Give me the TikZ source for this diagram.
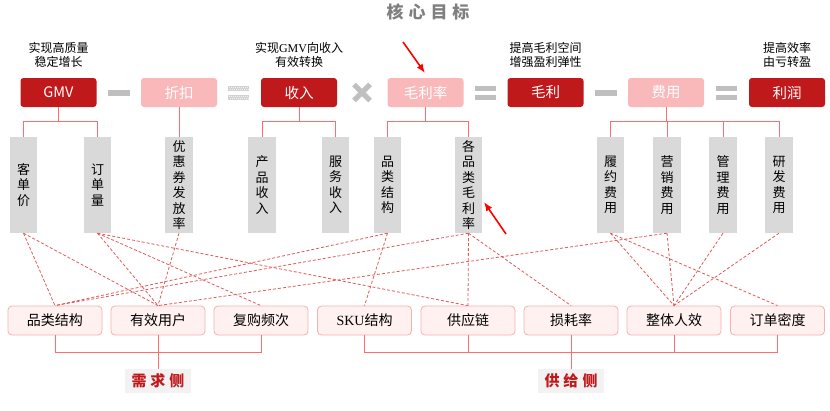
\documentclass[tikz,border=0pt]{standalone}
\usepackage{fontspec}
\setmainfont{Noto Sans CJK SC}
\newfontfamily\latinserif{Liberation Serif}
\usetikzlibrary{arrows.meta,calc}
\definecolor{darkred}{HTML}{C0191C}
\definecolor{lightpink}{HTML}{F9B8B9}
\definecolor{grayfill}{HTML}{D9D9D9}
\definecolor{linered}{HTML}{FF6E6E}
\definecolor{dashred}{HTML}{E05A5A}
\definecolor{boxfill}{HTML}{FFF1F0}
\definecolor{boxborder}{HTML}{FBAEAC}
\definecolor{opgray}{HTML}{BFBFBF}
\definecolor{titlegray}{HTML}{7F7F7F}
\definecolor{labelbg}{HTML}{F2F2F2}
\tikzset{
  topdark/.style={fill=darkred, rounded corners=3pt, minimum width=76pt, minimum height=29pt, inner sep=0pt, text=white, font=\fontsize{14.5}{16}\selectfont},
  toplight/.style={topdark, fill=lightpink},
  graybox/.style={fill=grayfill, minimum width=27.5pt, minimum height=96pt, inner sep=0pt, align=center, font=\fontsize{13}{15.5}\selectfont},
  botbox/.style={fill=boxfill, draw=boxborder, line width=0.8pt, rounded corners=4pt, minimum width=94pt, minimum height=29pt, inner sep=0pt, font=\fontsize{14}{16}\selectfont},
  sidelabel/.style={fill=labelbg, minimum width=66pt, minimum height=24pt, inner sep=0pt, text=darkred, font=\fontsize{15}{17}\selectfont\bfseries},
  goal/.style={align=center, font=\fontsize{12}{14.5}\selectfont},
  tree/.style={draw=linered, line width=1pt},
  link/.style={draw=dashred, line width=0.8pt, dash pattern=on 3pt off 2pt},
  opbar/.style={fill=opgray},
  pointer/.style={draw=red, line width=1.6pt, -{Latex[length=9pt,width=7pt]}}
}
\begin{document}
\begin{tikzpicture}[x=1pt,y=-1pt]
\useasboundingbox (0,0) rectangle (830,410);
\fill[white] (0,0) rectangle (830,410);

% title
\node[text=titlegray, font=\fontsize{17}{19}\selectfont\bfseries] (title) at (428,12) {核\hspace{5pt}心\hspace{5pt}目\hspace{5pt}标};

% goal texts
\node[goal] (g1) at (58.5,55) {实现高质量\\稳定增长};
\node[goal] (g2) at (299,55) {实现{\latinserif GMV}向收入\\有效转换};
\node[goal] (g3) at (545.5,55) {提高毛利空间\\增强盈利弹性};
\node[goal] (g4) at (787,55) {提高效率\\由亏转盈};

% top row
\node[topdark] (gmv) at (58.5,92.5) {GMV};
\node[toplight] (zk) at (179,92.5) {折扣};
\node[topdark] (sr) at (299,92.5) {收入};
\node[toplight] (mll) at (425.5,92.5) {毛利率};
\node[topdark] (ml) at (545.5,92.5) {毛利};
\node[toplight] (fy) at (666,92.5) {费用};
\node[topdark] (lr) at (787,92.5) {利润};

% operators
\fill[opbar] (108,90) rectangle (130,95.5);
\fill[opgray!70] (228,86) rectangle (249,91);
\fill[opgray!70] (228,94.5) rectangle (249,99.5);
\foreach \xx in {229,231,...,248} {
  \fill[white!80!opgray] (\xx,87) rectangle ++(1,1);
  \fill[white!80!opgray] (\xx+1,89) rectangle ++(1,1);
  \fill[white!80!opgray] (\xx,95.5) rectangle ++(1,1);
  \fill[white!80!opgray] (\xx+1,97.5) rectangle ++(1,1);
}
\draw[opgray, line width=5pt] (354,84.5) -- (370,100.5);
\draw[opgray, line width=5pt] (354,100.5) -- (370,84.5);
\fill[opbar] (475,86) rectangle (496,90.5);
\fill[opbar] (475,95) rectangle (496,99.5);
\fill[opbar] (595,90) rectangle (617,95.5);
\fill[opbar] (716,86) rectangle (737,90.5);
\fill[opbar] (716,95) rectangle (737,99.5);

% gray boxes
\node[graybox] (kdj) at (23.5,185) {客\\单\\价};
\node[graybox] (ddl) at (97.5,185) {订\\单\\量};
\node[graybox] (yhq) at (179,185) {优\\惠\\券\\发\\放\\率};
\node[graybox] (cpsr) at (262,185) {产\\品\\收\\入};
\node[graybox] (fwsr) at (335.5,185) {服\\务\\收\\入};
\node[graybox] (pljg) at (387.5,185) {品\\类\\结\\构};
\node[graybox] (gpl) at (468.5,185) {各\\品\\类\\毛\\利\\率};
\node[graybox] (lyfy) at (610.5,185) {履\\约\\费\\用};
\node[graybox] (yxfy) at (667,185) {营\\销\\费\\用};
\node[graybox] (glfy) at (723,185) {管\\理\\费\\用};
\node[graybox] (yffy) at (779,185) {研\\发\\费\\用};

% tree connectors
\draw[tree] (gmv.south) -- ++(0,14.5) coordinate (t1);
\draw[tree] (kdj.north) |- (t1) -| (ddl.north);
\draw[tree] (zk.south) -- (yhq.north);
\draw[tree] (sr.south) -- ++(0,14.5) coordinate (t2);
\draw[tree] (cpsr.north) |- (t2) -| (fwsr.north);
\draw[tree] (mll.south) -- ++(0,14.5) coordinate (t3);
\draw[tree] (pljg.north) |- (t3) -| (gpl.north);
\draw[tree] (fy.south) -- ++(0,14.5) coordinate (t4);
\draw[tree] (lyfy.north) |- (t4) -| (yffy.north);
\draw[tree] (t4) -| (yxfy.north);
\draw[tree] (t4) -| (glfy.north);

% bottom boxes
\node[botbox] (b1) at (55,320.5) {品类结构};
\node[botbox] (b2) at (158,320.5) {有效用户};
\node[botbox] (b3) at (261,320.5) {复购频次};
\node[botbox] (b4) at (364.5,320.5) {{\latinserif SKU}结构};
\node[botbox] (b5) at (468,320.5) {供应链};
\node[botbox] (b6) at (571,320.5) {损耗率};
\node[botbox] (b7) at (674,320.5) {整体人效};
\node[botbox] (b8) at (777.5,320.5) {订单密度};

% dashed links
\draw[link] (kdj.south) -- (b1.north);
\draw[link] (kdj.south) -- (b2.north);
\draw[link] (ddl.south) -- (b2.north);
\draw[link] (ddl.south) -- (b3.north);
\draw[link] (ddl.south) -- (b5.north);
\draw[link] (yhq.south) -- (b2.north);
\draw[link] (pljg.south) -- (b1.north);
\draw[link] (pljg.south) -- (b4.north);
\draw[link] (gpl.south) -- (b1.north);
\draw[link] (gpl.south) -- (b5.north);
\draw[link] (gpl.south) -- (b6.north);
\draw[link] (yxfy.south) -- (b2.north);
\draw[link] (lyfy.south) -- (b7.north);
\draw[link] (lyfy.south) -- (b8.north);
\draw[link] (yxfy.south) -- (b7.north);
\draw[link] (glfy.south) -- (b7.north);
\draw[link] (yffy.south) -- (b7.north);

% side labels
\node[sidelabel] (xq) at (158,381) {需\hspace{4pt}求\hspace{4pt}侧};
\node[sidelabel] (gj) at (571,381) {供\hspace{4pt}给\hspace{4pt}侧};

% bottom brackets
\draw[tree] (b1.south) |- (b3.south |- 0,352) -- (b3.south);
\draw[tree] (b2.south) -- (xq.north);
\draw[tree] (b4.south) |- (b8.south |- 0,352) -- (b8.south);
\draw[tree] (b5.south) -- (b5.south |- 0,352);
\draw[tree] (b7.south) -- (b7.south |- 0,352);
\draw[tree] (b6.south) -- (gj.north);

% red pointers
\coordinate (p1) at (403,42);
\coordinate (p1e) at (425,73);
\draw[pointer] (p1) -- (p1e);
\coordinate (p2) at (506,234);
\coordinate (p2e) at (484,202);
\draw[pointer] (p2) -- (p2e);
\end{tikzpicture}
\end{document}
